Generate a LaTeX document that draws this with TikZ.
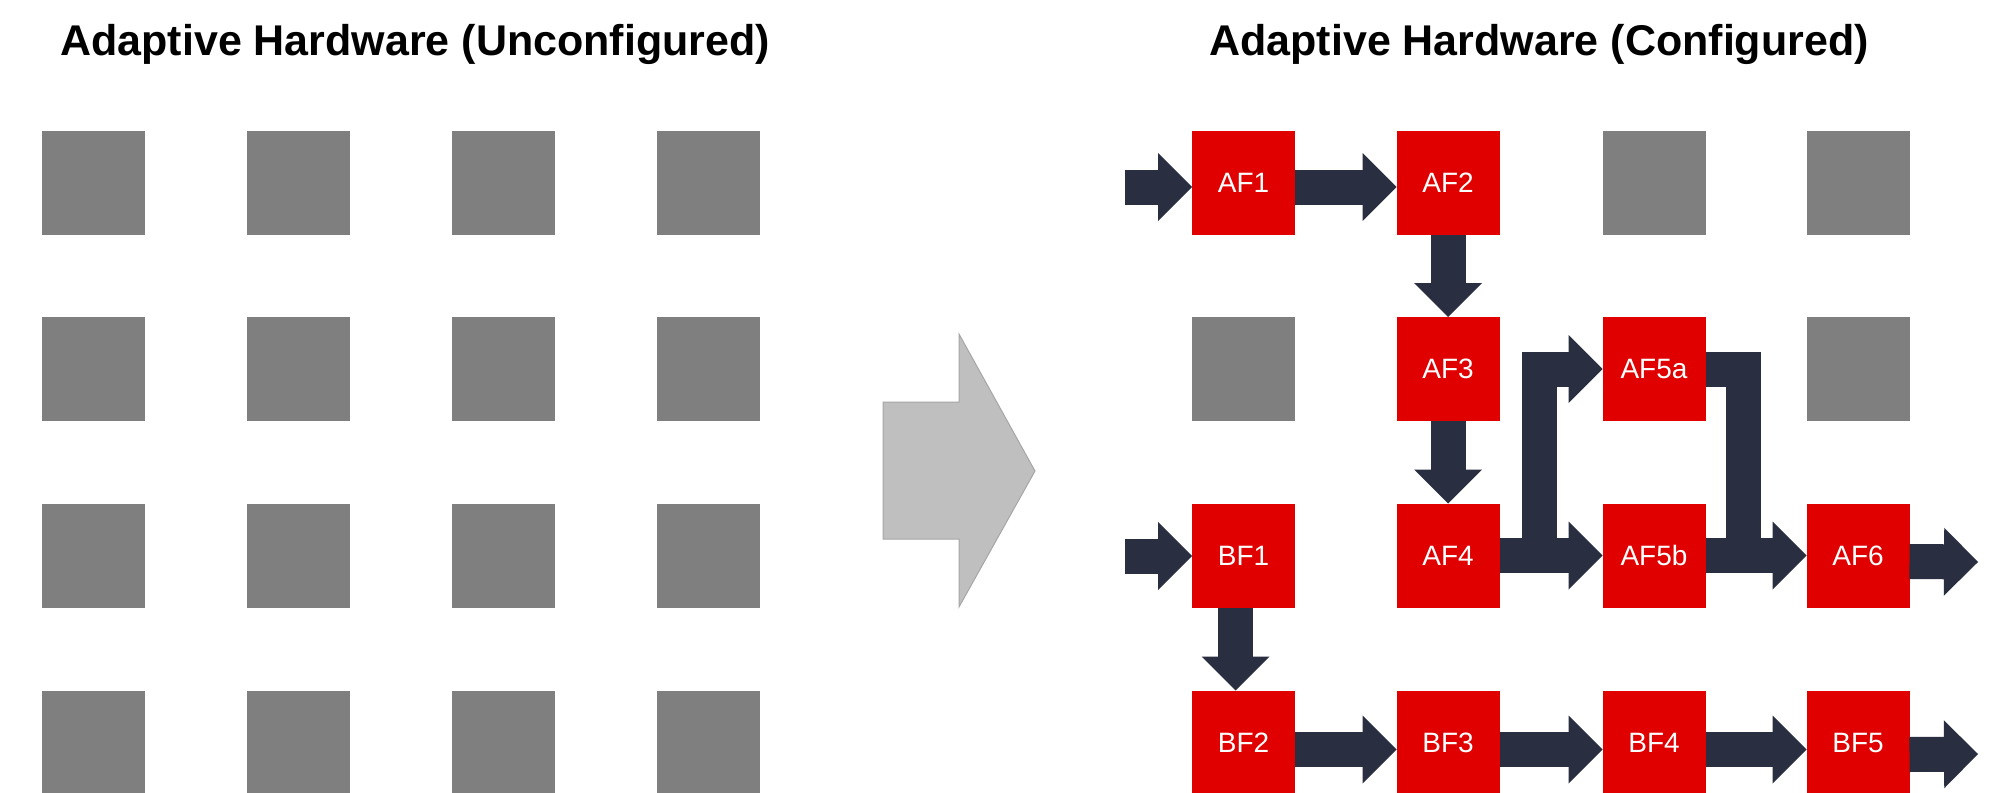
\documentclass[tikz,border=0pt]{standalone}
\usepackage{fontspec}
\setmainfont{Liberation Sans}
\usetikzlibrary{arrows.meta}
\definecolor{cellred}{HTML}{E00000}
\definecolor{cellgray}{HTML}{7F7F7F}
\definecolor{flowdark}{HTML}{292E40}
\definecolor{bigfill}{HTML}{BFBFBF}
\definecolor{bigline}{HTML}{A6A6A6}
\tikzset{
  cell/.style={minimum width=51.5pt, minimum height=52pt, inner sep=0pt, outer sep=0pt,
    font=\fontsize{14}{16}\selectfont, text=white},
  idle/.style={cell, fill=cellgray},
  busy/.style={cell, fill=cellred},
  band/.style={draw=flowdark, line width=17.5pt, line join=miter, line cap=butt},
  flow/.style={band, -{Triangle[width=34pt,length=17pt,line width=0pt]}},
  heading/.style={anchor=base west, inner sep=0pt, font=\bfseries\fontsize{21.5}{24}\selectfont}
}
\begin{document}
\begin{tikzpicture}[x=0.5pt,y=-0.5pt]
\useasboundingbox (0,0) rectangle (2004,793);
\fill[white] (0,0) rectangle (2004,793);

% headings
\node[heading] (t1) at (60,55) {Adaptive Hardware (Unconfigured)};
\node[heading] (t2) at (1209,55) {Adaptive Hardware (Configured)};

% unconfigured fabric: 4x4 idle cells
\foreach \c/\x in {1/93,2/298,3/503,4/708.5}
  \foreach \r/\y in {1/182.5,2/369,3/555.5,4/742.5}
    \node[idle] (L\c\r) at (\x,\y) {};

% transition arrow
\filldraw[fill=bigfill, draw=bigline, line width=0.5pt]
  (883,402) -- (959,402) -- (959,334) -- (1035,471) -- (959,607) -- (959,539) -- (883,539) -- cycle;

% configured fabric
\node[busy] (AF1) at (1243.5,182.5) {AF1};
\node[busy] (AF2) at (1448,182.5) {AF2};
\node[idle] (R31) at (1654,182.5) {};
\node[idle] (R41) at (1858,182.5) {};
\node[idle] (R12) at (1243.5,369) {};
\node[busy] (AF3) at (1448,369) {AF3};
\node[busy] (AF5a) at (1654,369) {AF5a};
\node[idle] (R42) at (1858,369) {};
\node[busy] (BF1) at (1243.5,555.5) {BF1};
\node[busy] (AF4) at (1448,555.5) {AF4};
\node[busy] (AF5b) at (1654,555.5) {AF5b};
\node[busy] (AF6) at (1858,555.5) {AF6};
\node[busy] (BF2) at (1243.5,742.5) {BF2};
\node[busy] (BF3) at (1448,742.5) {BF3};
\node[busy] (BF4) at (1654,742.5) {BF4};
\node[busy] (BF5) at (1858,742.5) {BF5};

% free ends and junctions of the data paths
\coordinate (inA) at (1125,187);
\coordinate (inB) at (1125,556);
\coordinate (split) at (1539.5,556);
\coordinate (merge) at (1743,556);
\coordinate (outA) at (1978,562);
\coordinate (outB) at (1978,754);

% path A
\draw[flow] (inA) -- (AF1.west |- inA);
\draw[flow] ([yshift=-2.25pt]AF1.east) -- ([yshift=-2.25pt]AF2.west);
\draw[flow] (AF2.south) -- (AF3.north);
\draw[flow] (AF3.south) -- (AF4.north);
\draw[flow] (AF4.east) -- (AF5b.west);
\draw[flow] (split) |- (AF5a.west);
\draw[band] (AF5a.east) -| (merge);
\draw[flow] (AF5b.east) -- (AF6.west);
\draw[flow] ([yshift=-3pt]AF6.east) -- (outA);

% path B
\draw[flow] (inB) -- (BF1.west |- inB);
\draw[flow] ([xshift=-4pt]BF1.south) -- ([xshift=-4pt]BF2.north);
\draw[flow] ([yshift=-3.5pt]BF2.east) -- ([yshift=-3.5pt]BF3.west);
\draw[flow] ([yshift=-3.5pt]BF3.east) -- ([yshift=-3.5pt]BF4.west);
\draw[flow] ([yshift=-3.5pt]BF4.east) -- ([yshift=-3.5pt]BF5.west);
\draw[flow] ([yshift=-6pt]BF5.east) -- (outB);
\end{tikzpicture}
\end{document}
